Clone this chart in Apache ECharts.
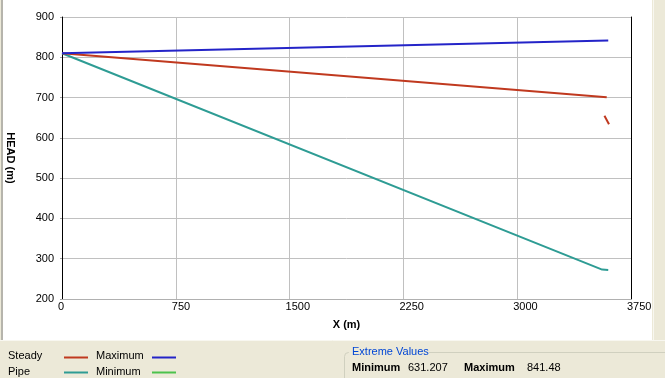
<!DOCTYPE html>
<html>
<head>
<meta charset="utf-8">
<script src="https://cdn.jsdelivr.net/npm/echarts@6/dist/echarts.min.js"></script>
<style>
  html, body { margin: 0; padding: 0; background: #ece9d8; }
  #chart { width: 665px; height: 378px; }
</style>
</head>
<body>
<div id="chart"></div>
<script>
// values
var steady = [[0, 810], [3590, 701]]
var steadyEnd = [[3575, 655], [3605, 634]]
var maximum = [[0, 810], [3600, 841.5]]
var pipe = [[0, 810], [3560, 273], [3600, 272]]
var xTicks = [0, 750, 1500, 2250, 3000, 3750]
var yTicks = [200, 300, 400, 500, 600, 700, 800, 900]
var extremeMin = '631.207'
var extremeMax = '841.48'

var font = 'Liberation Sans'
var red = '#c0391f'
var blue = '#2424c8'
var teal = '#2e9c94'
var green = '#4cc24c'

var myChart = echarts.init(document.getElementById('chart'))

function lineSeries(name, data, color) {
  return {
    name: name,
    type: 'line',
    data: data,
    symbol: 'none',
    silent: true,
    animation: false,
    lineStyle: { color: color, width: 2 }
  }
}

myChart.setOption({
  backgroundColor: '#ece9d8',
  graphic: [
    // white plot panel
    { type: 'rect', z: -10, shape: { x: 3, y: 0, width: 649, height: 340 }, style: { fill: '#ffffff' } },
    { type: 'line', z: -9, shape: { x1: 2, y1: 0, x2: 2, y2: 340 }, style: { stroke: '#808080', lineWidth: 1 } },
    { type: 'line', z: -9, shape: { x1: 0, y1: 340.5, x2: 665, y2: 340.5 }, style: { stroke: '#f8f7f0', lineWidth: 1 } },
    { type: 'line', z: -9, shape: { x1: 653.5, y1: 0, x2: 653.5, y2: 340 }, style: { stroke: '#f8f7f0', lineWidth: 1 } },
    // legend
    { type: 'text', style: { x: 8, y: 350, text: 'Steady', font: '11px ' + font, fill: '#000' } },
    { type: 'text', style: { x: 8, y: 366, text: 'Pipe', font: '11px ' + font, fill: '#000' } },
    { type: 'text', style: { x: 96, y: 350, text: 'Maximum', font: '11px ' + font, fill: '#000' } },
    { type: 'text', style: { x: 96, y: 366, text: 'Minimum', font: '11px ' + font, fill: '#000' } },
    { type: 'line', shape: { x1: 64, y1: 357.5, x2: 88, y2: 357.5 }, style: { stroke: red, lineWidth: 2 } },
    { type: 'line', shape: { x1: 64, y1: 372.5, x2: 88, y2: 372.5 }, style: { stroke: teal, lineWidth: 2 } },
    { type: 'line', shape: { x1: 152, y1: 357.5, x2: 176, y2: 357.5 }, style: { stroke: blue, lineWidth: 2 } },
    { type: 'line', shape: { x1: 152, y1: 372.5, x2: 176, y2: 372.5 }, style: { stroke: green, lineWidth: 2 } },
    // extreme values group box
    { type: 'rect', shape: { x: 344.5, y: 352.5, width: 330, height: 40, r: 4 }, style: { fill: 'none', stroke: '#d0d0bf', lineWidth: 1 } },
    { type: 'rect', shape: { x: 349, y: 346, width: 80, height: 12 }, style: { fill: '#ece9d8' } },
    { type: 'text', style: { x: 352, y: 346, text: 'Extreme Values', font: '11px ' + font, fill: '#0046d5' } },
    { type: 'text', style: { x: 352, y: 362, text: 'Minimum', font: 'bold 11px ' + font, fill: '#000' } },
    { type: 'text', style: { x: 408, y: 362, text: extremeMin, font: '11px ' + font, fill: '#000' } },
    { type: 'text', style: { x: 464, y: 362, text: 'Maximum', font: 'bold 11px ' + font, fill: '#000' } },
    { type: 'text', style: { x: 527, y: 362, text: extremeMax, font: '11px ' + font, fill: '#000' } }
  ],
  grid: { left: 62, right: 34, top: 17, bottom: 79, containLabel: false, outerBoundsMode: 'none' },
  xAxis: {
    type: 'value',
    min: xTicks[0],
    max: xTicks[xTicks.length - 1],
    interval: 750,
    name: 'X (m)',
    nameLocation: 'middle',
    nameGap: 20,
    nameTextStyle: { fontFamily: font, fontSize: 11, fontWeight: 'bold', color: '#000' },
    axisLine: { show: true, lineStyle: { color: '#b0b0b0', width: 1 } },
    axisTick: { show: false },
    axisLabel: {
      fontFamily: font, fontSize: 11, color: '#000', margin: 2, align: 'left', padding: [0, 0, 0, -4],
      showMinLabel: true, showMaxLabel: true, hideOverlap: false,
      formatter: function (v) { return String(v) }
    },
    splitLine: { show: true, lineStyle: { color: '#c0c0c0', width: 1 } }
  },
  yAxis: [
    {
      type: 'value',
      min: yTicks[0],
      max: yTicks[yTicks.length - 1],
      interval: 100,
      name: 'HEAD (m)',
      nameLocation: 'middle',
      nameRotate: -90,
      nameGap: 46,
      nameTextStyle: { fontFamily: font, fontSize: 11, fontWeight: 'bold', color: '#000' },
      axisLine: { show: true, lineStyle: { color: '#000', width: 1 } },
      axisTick: { show: true, length: 2, lineStyle: { color: '#a0a0a0' } },
      axisLabel: {
        fontFamily: font, fontSize: 11, color: '#000', margin: 8,
        showMinLabel: true, showMaxLabel: true,
        formatter: function (v) { return String(v) }
      },
      splitLine: { show: true, lineStyle: { color: '#c0c0c0', width: 1 } }
    },
    {
      type: 'value',
      position: 'right',
      min: yTicks[0],
      max: yTicks[yTicks.length - 1],
      interval: 100,
      axisLine: { show: true, lineStyle: { color: '#000', width: 1 } },
      axisTick: { show: false },
      axisLabel: { show: false },
      splitLine: { show: false }
    }
  ],
  series: [
    lineSeries('Pipe', pipe, teal),
    lineSeries('Steady', steady, red),
    lineSeries('Steady end', steadyEnd, red),
    lineSeries('Maximum', maximum, blue)
  ]
})
</script>
</body>
</html>
